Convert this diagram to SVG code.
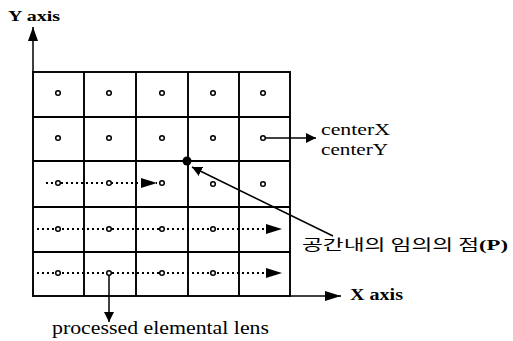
<svg xmlns="http://www.w3.org/2000/svg" width="513" height="341" viewBox="0 0 513 341">
<style>
.grid{fill:none;stroke:#000;stroke-width:1.9}
.lens{fill:#fff;stroke:#000;stroke-width:1.5}
.dot{fill:none;stroke:#000;stroke-width:2;stroke-dasharray:2 3}
.line{fill:none;stroke:#000;stroke-width:1.5}
.serif{font-family:"Liberation Serif","Times New Roman",serif;fill:#000}
.kr{font-family:"Noto Sans CJK KR","Noto Sans",sans-serif;fill:#000}
</style>
<defs>
<marker id="ah" viewBox="0 0 10 10" refX="10" refY="5" markerWidth="10" markerHeight="10" markerUnits="userSpaceOnUse" orient="auto">
<path d="M0,0 L10,5 L0,10 Z" fill="#000"/>
</marker>
<marker id="ahB" viewBox="0 0 16 10" refX="16" refY="5" markerWidth="16" markerHeight="10" markerUnits="userSpaceOnUse" orient="auto">
<path d="M0,0 L16,5 L0,10 Z" fill="#000"/>
</marker>
<marker id="ahY" viewBox="0 0 14 10" refX="14" refY="5" markerWidth="14" markerHeight="10" markerUnits="userSpaceOnUse" orient="auto">
<path d="M0,0 L14,5 L0,10 Z" fill="#000"/>
</marker>
</defs>
<g id="grid">
<rect class="grid" x="33" y="72" width="257" height="224" stroke-width="2.2"/>
<path class="grid" d="M84,72V296M136,72V296M188,72V296M239,72V296M33,117H290M33,161H290M33,207H290M33,252H290"/>
</g>
<g id="connectors">
<line class="line" x1="33" y1="72" x2="33" y2="27" marker-end="url(#ahY)"/>
<line class="line" x1="290" y1="296" x2="341" y2="296" marker-end="url(#ahB)"/>
<line class="dot" x1="46" y1="183" x2="157" y2="183" marker-end="url(#ahB)"/>
<line class="dot" x1="37" y1="229" x2="282" y2="229" marker-end="url(#ahB)"/>
<line class="dot" x1="37" y1="273" x2="282" y2="273" marker-end="url(#ahB)"/>
<line class="line" x1="263" y1="138" x2="316" y2="138" marker-end="url(#ah)"/>
<line class="line" x1="109" y1="273" x2="109" y2="322" marker-end="url(#ah)"/>
<line class="line" x1="333" y1="236" x2="192" y2="167" marker-end="url(#ah)"/>
</g>
<g id="lenses">
<circle class="lens" cx="58" cy="93" r="2.3"/><circle class="lens" cx="109" cy="93" r="2.3"/><circle class="lens" cx="162" cy="93" r="2.3"/><circle class="lens" cx="213" cy="93" r="2.3"/><circle class="lens" cx="263" cy="93" r="2.3"/>
<circle class="lens" cx="58" cy="138" r="2.3"/><circle class="lens" cx="109" cy="138" r="2.3"/><circle class="lens" cx="162" cy="138" r="2.3"/><circle class="lens" cx="213" cy="138" r="2.3"/><circle class="lens" cx="263" cy="138" r="2.3"/>
<circle class="lens" cx="58" cy="183" r="2.3"/><circle class="lens" cx="109" cy="183" r="2.3"/><circle class="lens" cx="162" cy="183" r="2.3"/><circle class="lens" cx="213" cy="184" r="2.3"/><circle class="lens" cx="263" cy="184" r="2.3"/>
<circle class="lens" cx="58" cy="229" r="2.3"/><circle class="lens" cx="109" cy="229" r="2.3"/><circle class="lens" cx="162" cy="229" r="2.3"/><circle class="lens" cx="213" cy="229" r="2.3"/>
<circle class="lens" cx="58" cy="273" r="2.3"/><circle class="lens" cx="109" cy="273" r="2.3"/><circle class="lens" cx="162" cy="273" r="2.3"/><circle class="lens" cx="213" cy="273" r="2.3"/>
</g>
<g id="point-P"><circle cx="187" cy="161" r="4.5" fill="#000"/></g>
<g id="label-y"><text class="serif" x="8" y="21" font-size="15" font-weight="bold" textLength="52" lengthAdjust="spacingAndGlyphs">Y axis</text></g>
<g id="label-x"><text class="serif" x="350" y="300" font-size="16" font-weight="bold" textLength="53" lengthAdjust="spacingAndGlyphs">X axis</text></g>
<g id="label-center"><text class="serif" x="321" y="135" font-size="16" textLength="69" lengthAdjust="spacingAndGlyphs">centerX</text>
<text class="serif" x="321" y="155" font-size="16" textLength="67" lengthAdjust="spacingAndGlyphs">centerY</text></g>
<g id="label-p"><text x="302" y="250" font-size="15" textLength="206" lengthAdjust="spacingAndGlyphs"><tspan class="kr">공간내의 임의의 점</tspan><tspan class="serif" font-weight="bold">(P)</tspan></text></g>
<g id="label-lens"><text class="serif" x="52" y="334" font-size="19" textLength="217" lengthAdjust="spacingAndGlyphs">processed elemental lens</text></g>
</svg>
